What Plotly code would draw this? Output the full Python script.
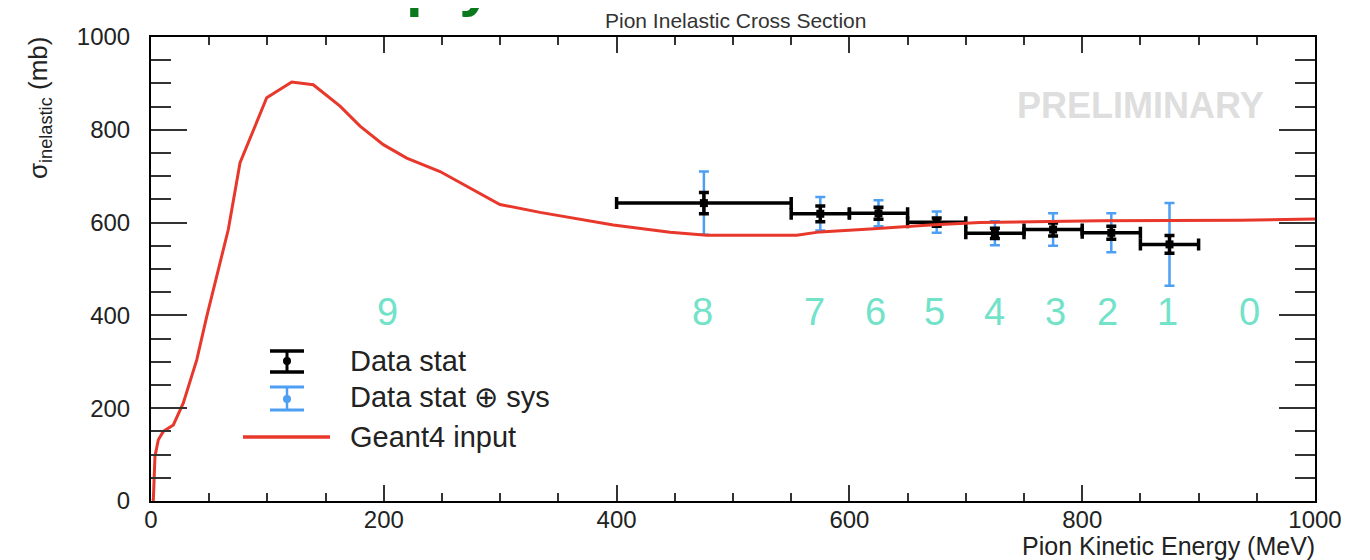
import plotly.graph_objects as go

# ---------------- data ----------------
energy_curve = [1, 2, 3.4, 6.3, 10.6, 19.2, 27.7, 39.3, 47.9, 66.4, 76.5, 82.2, 99.4,
                120.9, 139.4, 162.4, 179.6, 199.6, 219.7, 248.3, 276.9, 299.8, 334.2,
                397.2, 445.9, 477.4, 554.7, 574.7, 617.7, 669.2, 712.2, 815.3, 935.6, 1000]
sigma_curve = [0, 2, 96, 132, 150, 164, 211, 304, 398, 585, 729, 764, 869,
               903, 897, 851, 808, 768, 739, 710, 671, 639, 622,
               595, 579, 573, 573, 580, 586, 595, 600, 604, 605, 608]

bin_centers = [475, 575, 625, 675, 725, 775, 825, 875]
bin_halfwidths = [75, 25, 25, 25, 25, 25, 25, 25]
sigma_data = [642, 619, 620, 601, 577, 585, 578, 553]
stat_err = [23, 17, 13, 9, 11, 14, 14, 19]
total_err = [68, 36, 28, 23, 26, 35, 42, 89]

region_labels = ["9", "8", "7", "6", "5", "4", "3", "2", "1", "0"]
region_energy = [203, 474, 570, 622, 673, 725, 777, 822, 873, 944]
region_sigma = [408] * len(region_labels)

x_ticks = [0, 200, 400, 600, 800, 1000]
y_ticks = [0, 200, 400, 600, 800, 1000]

# ---------------- layout constants ----------------
OFF = 8                      # page body margin
W, H = 1370 - OFF, 560 - OFF
L, R, T, B = 151, 1315, 37, 501   # plot area in page pixels
FONT = "Liberation Sans, Arial, Helvetica, sans-serif"
RED = "#e8372b"
BLUE = "#4d9ff3"
TEAL = "#72e2c8"


def px(xp):
    return (xp - L) / (R - L)


def py(yp):
    return (B - yp) / (B - T)


fig = go.Figure()

fig.add_trace(go.Scatter(
    x=bin_centers, y=sigma_data, mode="markers",
    marker=dict(color=BLUE, size=6),
    error_y=dict(type="data", array=total_err, color=BLUE, thickness=2.5, width=5),
    name="Data stat \u2295 sys", showlegend=False))

fig.add_trace(go.Scatter(
    x=bin_centers, y=sigma_data, mode="markers",
    marker=dict(color="black", size=8, symbol="square"),
    error_x=dict(type="data", array=bin_halfwidths, color="black", thickness=3.5, width=6),
    error_y=dict(type="data", array=stat_err, color="black", thickness=3.5, width=5),
    name="Data stat", showlegend=False))

fig.add_trace(go.Scatter(
    x=energy_curve, y=sigma_curve, mode="lines",
    line=dict(color=RED, width=3),
    name="Geant4 input", showlegend=False))

annotations = []
for lab, xe, ys in zip(region_labels, region_energy, region_sigma):
    annotations.append(dict(x=xe, y=ys, xref="x", yref="y", text=lab, showarrow=False,
                            font=dict(family=FONT, size=38, color=TEAL),
                            xanchor="center", yanchor="middle"))

annotations += [
    dict(x=px(735), y=py(20), xref="paper", yref="paper", text="Pion Inelastic Cross Section",
         showarrow=False, font=dict(family=FONT, size=21, color="#333333"),
         xanchor="center", yanchor="middle"),
    dict(x=px(1317), y=py(546), xref="paper", yref="paper", text="Pion Kinetic Energy (MeV)",
         showarrow=False, font=dict(family=FONT, size=25, color="#222222"),
         xanchor="right", yanchor="middle"),
    dict(x=px(40), y=py(35), xref="paper", yref="paper",
         text="\u03c3<sub>inelastic</sub> (mb)", textangle=-90,
         showarrow=False, font=dict(family=FONT, size=26, color="#222222"),
         xanchor="center", yanchor="top"),
    dict(x=px(1140), y=py(106), xref="paper", yref="paper", text="<b>PRELIMINARY</b>",
         showarrow=False, font=dict(family=FONT, size=36, color="#dedede"),
         xanchor="center", yanchor="middle"),
    dict(x=px(404), y=py(20), xref="paper", yref="paper", text="<b>ply</b>",
         showarrow=False, font=dict(family=FONT, size=60, color="#0b7a1e"),
         xanchor="left", yanchor="bottom"),
]

legend_font = dict(family=FONT, size=29, color="#222222")
for text, yc in [("Data stat", 361), ("Data stat \u2295 sys", 397), ("Geant4 input", 437)]:
    annotations.append(dict(x=px(348), y=py(yc), xref="paper", yref="paper", text=text,
                            showarrow=False, font=legend_font, xanchor="left", yanchor="middle"))

shapes = []


def err_symbol(xc, ytop, ybot, ymid, color, lw, r):
    out = [dict(type="line", xref="paper", yref="paper", x0=px(xc), x1=px(xc),
                y0=py(ytop), y1=py(ybot), line=dict(color=color, width=lw))]
    for yy in (ytop, ybot):
        out.append(dict(type="line", xref="paper", yref="paper", x0=px(xc - 17), x1=px(xc + 17),
                        y0=py(yy), y1=py(yy), line=dict(color=color, width=lw + 0.5)))
    out.append(dict(type="circle", xref="paper", yref="paper", x0=px(xc - r), x1=px(xc + r),
                    y0=py(ymid + r), y1=py(ymid - r), fillcolor=color,
                    line=dict(color=color, width=0)))
    return out


shapes += err_symbol(287, 351, 372, 361, "black", 3, 4)
shapes += err_symbol(287, 387, 410, 399, BLUE, 2.5, 4)
shapes.append(dict(type="line", xref="paper", yref="paper", x0=px(243), x1=px(330),
                   y0=py(437), y1=py(437), line=dict(color=RED, width=3.5)))

axis_common = dict(showgrid=False, zeroline=False, showline=True, linecolor="black",
                   linewidth=2, mirror="ticks", ticks="inside", tickcolor="#333333",
                   tickwidth=1.5, tickfont=dict(family=FONT, size=24, color="#222222"))

fig.update_layout(
    width=W, height=H,
    margin=dict(l=L - OFF, r=1370 - R, t=T - OFF, b=560 - B, pad=0),
    paper_bgcolor="white", plot_bgcolor="white",
    showlegend=False,
    annotations=annotations, shapes=shapes,
    xaxis=dict(range=[0, 1000], tickvals=x_ticks, ticktext=[str(v) for v in x_ticks],
               ticklen=16, minor=dict(dtick=50, ticklen=8, ticks="inside",
                                      tickcolor="#333333", tickwidth=1.5),
               ticklabelstandoff=-4, **axis_common),
    yaxis=dict(range=[0, 1000], tickvals=y_ticks, ticktext=[str(v) for v in y_ticks],
               ticklen=36, minor=dict(dtick=50, ticklen=20, ticks="inside",
                                      tickcolor="#333333", tickwidth=1.5),
               ticklabelstandoff=14, **axis_common),
)

fig.write_html("out.html")
